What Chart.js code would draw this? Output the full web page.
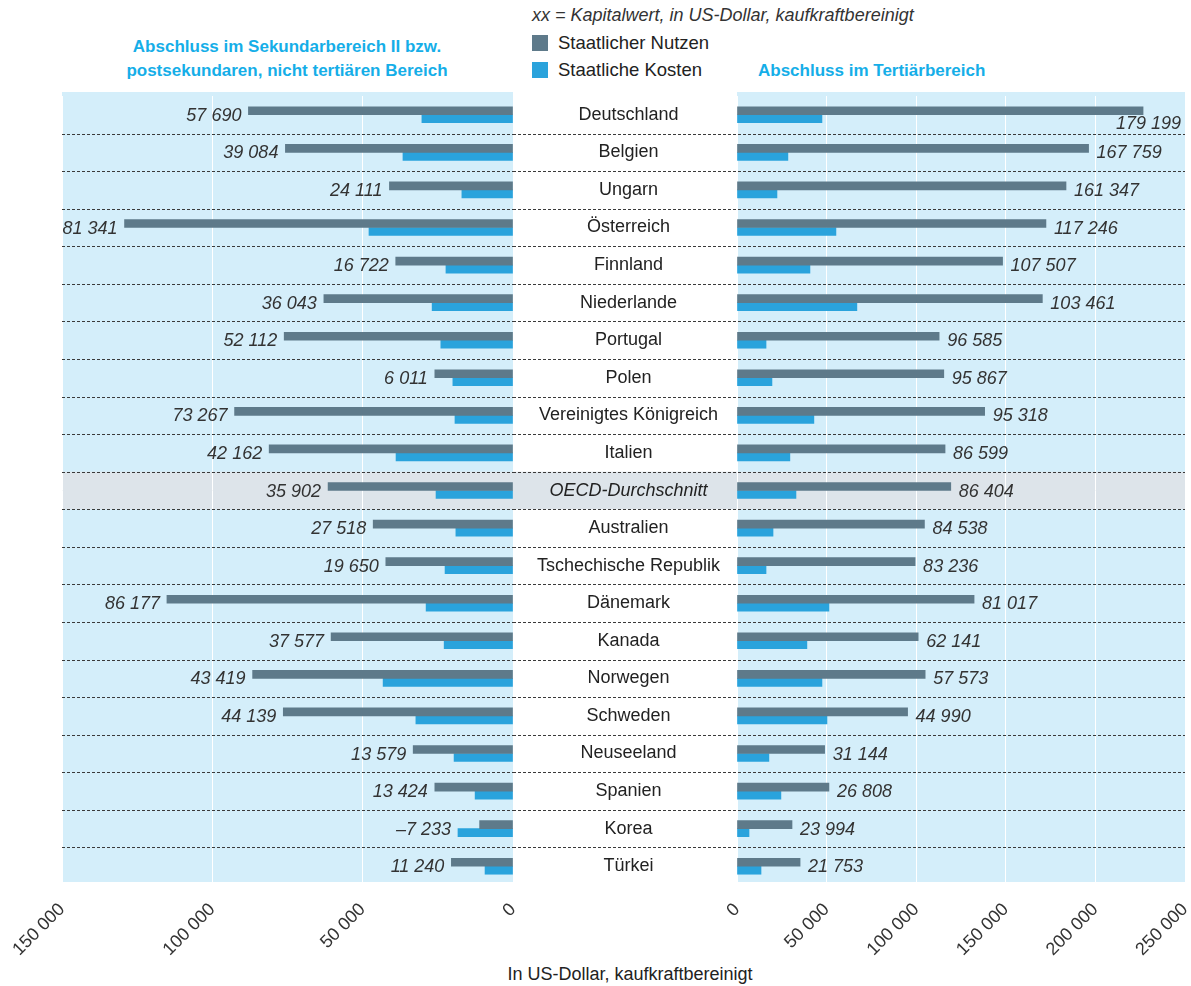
<!DOCTYPE html>
<html>
<head>
<meta charset="utf-8">
<script src="https://cdn.jsdelivr.net/npm/chart.js@4.4.1/dist/chart.umd.min.js"></script>
<style>
  html, body { margin:0; padding:0; background:#fff; }
  body { width:1191px; height:986px; position:relative; overflow:hidden; font-family:"Liberation Sans", Arial, sans-serif; color:#222; }
  canvas.c { position:absolute; left:0; top:0; }
  .t { position:absolute; white-space:nowrap; }
  .title { color:#15aee8; font-weight:bold; font-size:17px; line-height:24px; }
  .leg { font-size:18.5px; line-height:20px; color:#222; }
  .sw { position:absolute; width:16px; height:16px; }
</style>
</head>
<body>
<div class="t title" style="left:87px; top:35px; width:400px; text-align:center;">Abschluss im Sekundarbereich II bzw.<br>postsekundaren, nicht tertiären Bereich</div>
<div class="t title" style="left:758px; top:59px;">Abschluss im Tertiärbereich</div>
<div class="t leg" style="left:532px; top:5px; font-style:italic; font-size:18px; color:#333;">xx = Kapitalwert, in US-Dollar, kaufkraftbereinigt</div>
<div class="sw" style="left:532px; top:35px; background:#5e7a8a;"></div>
<div class="t leg" style="left:558px; top:33px;">Staatlicher Nutzen</div>
<div class="sw" style="left:532px; top:62px; background:#2aa3dc;"></div>
<div class="t leg" style="left:558px; top:60px;">Staatliche Kosten</div>
<div class="t" style="left:430px; top:964px; width:400px; text-align:center; font-size:18px; color:#222;">In US-Dollar, kaufkraftbereinigt</div>

<canvas id="cL" class="c" width="1191" height="986"></canvas>
<canvas id="cR" class="c" width="1191" height="986"></canvas>

<script>
const categories = ['Deutschland','Belgien','Ungarn','Österreich','Finnland','Niederlande','Portugal','Polen','Vereinigtes Königreich','Italien','OECD-Durchschnitt','Australien','Tschechische Republik','Dänemark','Kanada','Norwegen','Schweden','Neuseeland','Spanien','Korea','Türkei'];

// Sekundarbereich II / postsekundar (left panel)
const leftNet      = [57690, 39084, 24111, 81341, 16722, 36043, 52112, 6011, 73267, 42162, 35902, 27518, 19650, 86177, 37577, 43419, 44139, 13579, 13424, -7233, 11240];
const leftNutzen   = [88000, 75700, 41100, 129200, 39000, 62900, 76100, 26000, 92600, 81100, 61500, 46500, 42300, 115100, 60500, 86600, 76400, 33200, 26000, 11100, 20500];
const leftKosten   = [30300, 36600, 17000, 47900, 22300, 26900, 24000, 20000, 19300, 38900, 25600, 19000, 22600, 28900, 22900, 43200, 32300, 19600, 12600, 18300, 9300];

// Tertiärbereich (right panel)
const rightNet     = [179199, 167759, 161347, 117246, 107507, 103461, 96585, 95867, 95318, 86599, 86404, 84538, 83236, 81017, 62141, 57573, 44990, 31144, 26808, 23994, 21753];
const rightNutzen  = [226600, 196200, 183600, 172400, 148200, 170400, 112800, 115400, 138200, 116100, 119300, 104600, 99400, 132300, 101100, 105000, 95200, 48900, 51300, 30700, 35200];
const rightKosten  = [47400, 28400, 22300, 55200, 40700, 66900, 16200, 19500, 42900, 29500, 32900, 20100, 16200, 51300, 39000, 47400, 50200, 17800, 24500, 6700, 13400];

const leftTicks  = [0, 50000, 100000, 150000];
const rightTicks = [0, 50000, 100000, 150000, 200000, 250000];
const highlightCategory = 'OECD-Durchschnitt';

const C_NUTZEN = '#5e7a8a', C_KOSTEN = '#2aa3dc', C_BG = '#d4eefa', C_HL = '#dde4ea';
const FONT = '"Liberation Sans", Arial, sans-serif';

function fmt(v) {
  const s = Math.abs(v).toString().replace(/\B(?=(\d{3})+(?!\d))/g, ' ');
  return (v < 0 ? '\u2013' : '') + s;
}

function rowBounds(chart, i) {
  const y = chart.scales.y;
  const step = (y.getPixelForValue(1) - y.getPixelForValue(0));
  const c = y.getPixelForValue(i);
  return [c - step / 2, c + step / 2];
}

function makePlugin(side) {
  return {
    id: 'deco' + side,
    beforeDraw(chart) {
      const ctx = chart.ctx, a = chart.chartArea;
      ctx.save();
      ctx.fillStyle = C_BG;
      ctx.fillRect(a.left, a.top - 4, a.right - a.left, a.bottom - a.top + 1);
      const hi = categories.indexOf(highlightCategory);
      const [t, b] = rowBounds(chart, hi);
      const x0 = side === 'L' ? a.left : chart.scales.y.left;
      const x1 = a.right;
      ctx.fillStyle = C_HL;
      ctx.fillRect(x0, t, x1 - x0, b - t);
      ctx.restore();
    },
    beforeDatasetsDraw(chart) {
      const ctx = chart.ctx, a = chart.chartArea;
      const x0 = side === 'L' ? a.left : chart.scales.y.left;
      const x1 = a.right;
      ctx.save();
      ctx.strokeStyle = '#3a3a3a';
      ctx.lineWidth = 1;
      ctx.setLineDash([3, 2]);
      for (let i = 0; i < categories.length - 1; i++) {
        const yb = Math.round(rowBounds(chart, i)[1]) + 0.5;
        ctx.beginPath();
        ctx.moveTo(x0, yb);
        ctx.lineTo(x1, yb);
        ctx.stroke();
      }
      ctx.restore();
    },
    afterDatasetsDraw(chart) {
      const ctx = chart.ctx, a = chart.chartArea;
      const mN = chart.getDatasetMeta(0), mK = chart.getDatasetMeta(1);
      const net = side === 'L' ? leftNet : rightNet;
      ctx.save();
      ctx.font = 'italic 18px ' + FONT;
      ctx.fillStyle = '#333';
      ctx.textBaseline = 'middle';
      for (let i = 0; i < categories.length; i++) {
        const bn = mN.data[i], bk = mK.data[i];
        const yc = (bn.y + bk.y) / 2 + 1;
        const txt = fmt(net[i]);
        if (side === 'L') {
          const xe = Math.min(bn.x, bk.x);
          ctx.textAlign = 'right';
          ctx.fillText(txt, xe - 7, yc);
        } else {
          const xe = Math.max(bn.x, bk.x);
          const w = ctx.measureText(txt).width;
          if (xe + 8 + w > a.right - 2) {
            ctx.textAlign = 'right';
            ctx.fillText(txt, a.right - 4, yc + 8);
          } else {
            ctx.textAlign = 'left';
            ctx.fillText(txt, xe + 8, yc);
          }
        }
      }
      ctx.restore();
    }
  };
}

function xScale(max, reverse) {
  return {
    type: 'linear', min: 0, max: max, reverse: reverse,
    afterBuildTicks(s) { s.ticks = (reverse ? leftTicks : rightTicks).map(v => ({ value: v })); },
    afterFit(s) { s.height = 101; s.paddingLeft = 0; s.paddingRight = 0; },
    grid: { color: '#ffffff', lineWidth: 1, drawTicks: false },
    border: { display: false },
    ticks: {
      minRotation: 45, maxRotation: 45, padding: 14, autoSkip: false,
      color: '#333', font: { family: FONT, size: 18 },
      callback: v => fmt(v)
    }
  };
}

const common = {
  indexAxis: 'y',
  responsive: false,
  animation: false,
  plugins: { legend: { display: false }, tooltip: { enabled: false } },
};

new Chart(document.getElementById('cL'), {
  type: 'bar',
  data: {
    labels: categories,
    datasets: [
      { label: 'Staatlicher Nutzen', data: leftNutzen, backgroundColor: C_NUTZEN, barThickness: 8 },
      { label: 'Staatliche Kosten', data: leftKosten, backgroundColor: C_KOSTEN, barThickness: 8 }
    ]
  },
  options: Object.assign({}, common, {
    layout: { padding: { left: 62, right: 1191 - 513, top: 96, bottom: 0 } },
    scales: {
      x: xScale(150000, true),
      y: { type: 'category', display: false }
    }
  }),
  plugins: [makePlugin('L')]
});

new Chart(document.getElementById('cR'), {
  type: 'bar',
  data: {
    labels: categories,
    datasets: [
      { label: 'Staatlicher Nutzen', data: rightNutzen, backgroundColor: C_NUTZEN, barThickness: 8 },
      { label: 'Staatliche Kosten', data: rightKosten, backgroundColor: C_KOSTEN, barThickness: 8 }
    ]
  },
  options: Object.assign({}, common, {
    layout: { padding: { left: 513, right: 6, top: 96, bottom: 0 } },
    scales: {
      x: xScale(250000, false),
      y: {
        type: 'category', position: 'left',
        afterFit(s) { s.width = 224; s.paddingTop = 0; s.paddingBottom = 0; },
        grid: { display: false, drawTicks: false },
        border: { display: false },
        ticks: {
          crossAlign: 'center', padding: 17, autoSkip: false, color: '#222',
          font: (ctx) => ({ family: FONT, size: 18, style: (categories[ctx.index] === highlightCategory) ? 'italic' : 'normal' })
        }
      }
    }
  }),
  plugins: [makePlugin('R')]
});
</script>
</body>
</html>
